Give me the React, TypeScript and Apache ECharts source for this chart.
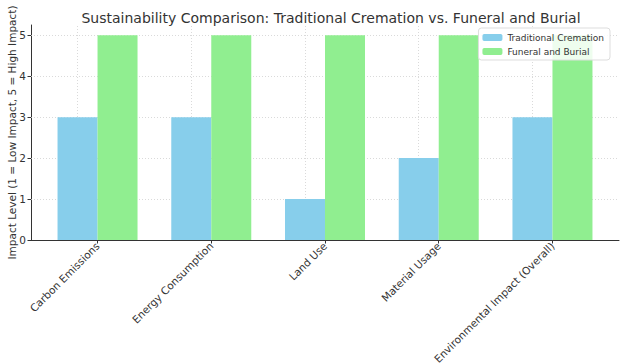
import React, { useEffect, useRef } from "react";
import * as echarts from "echarts";

const categories = [
  "Carbon Emissions",
  "Energy Consumption",
  "Land Use",
  "Material Usage",
  "Environmental Impact (Overall)",
];
const cremation = [3, 3, 1, 2, 3];
const burial = [5, 5, 5, 5, 5];
const yTicks = [0, 1, 2, 3, 4, 5];
const gridY = [1, 2, 3, 4, 5];

const FONT = "DejaVu Sans";

export default function App() {
  const ref = useRef<HTMLDivElement>(null);
  useEffect(() => {
    if (!ref.current) return;
    const chart = echarts.init(ref.current, null, { renderer: "svg" });
    const idx = categories.map((_, i) => i);
    const gridStyle = { color: "#d0d0d0", type: [1, 2] as any, width: 0.8 };
    chart.setOption({
      animation: false,
      backgroundColor: "#fff",
      textStyle: { fontFamily: FONT },
      title: {
        text: "Sustainability Comparison: Traditional Cremation vs. Funeral and Burial",
        left: 326,
        textAlign: "center",
        top: 6,
        textStyle: { fontFamily: FONT, fontSize: 14, fontWeight: "normal", color: "#333" },
      },
      legend: {
        orient: "vertical",
        right: 14,
        top: 28,
        itemWidth: 20,
        itemHeight: 7,
        itemGap: 5,
        padding: [5, 6, 4, 4],
        borderColor: "#ddd",
        borderWidth: 1,
        borderRadius: 3,
        backgroundColor: "rgba(255,255,255,0.85)",
        textStyle: { fontFamily: FONT, fontSize: 9, color: "#333" },
        data: ["Traditional Cremation", "Funeral and Burial"],
      },
      grid: { left: 31, right: 5, top: 25, bottom: 124, outerBoundsMode: "none", containLabel: false },
      xAxis: {
        type: "value",
        min: -0.585,
        max: 4.585,
        axisLine: { show: true, onZero: false, lineStyle: { color: "#333", width: 1 } },
        axisTick: { show: true, customValues: idx, length: 3.5, lineStyle: { color: "#333" } },
        axisLabel: {
          customValues: idx,
          rotate: 45,
          formatter: (v: number) => categories[Math.round(v)] ?? "",
          fontFamily: FONT,
          fontSize: 10.5,
          color: "#333",
          margin: 4,
        },
        splitLine: { show: false },
      },
      yAxis: {
        type: "value",
        min: 0,
        max: 5.25,
        name: "Impact Level (1 = Low Impact, 5 = High Impact)",
        nameLocation: "middle",
        nameGap: 14,
        nameMoveOverlap: false,
        nameTextStyle: { fontFamily: FONT, fontSize: 10.5, color: "#333" },
        axisLine: { show: true, onZero: false, lineStyle: { color: "#333", width: 1 } },
        axisTick: { show: true, customValues: yTicks, length: 3.5, lineStyle: { color: "#333" } },
        axisLabel: { customValues: yTicks, fontFamily: FONT, fontSize: 10.5, color: "#333", margin: 5 },
        splitLine: { show: false },
      },
      series: [
        {
          name: "Traditional Cremation",
          type: "bar",
          barWidth: 40,
          barGap: "0%",
          itemStyle: { color: "#87CEEB" },
          data: cremation.map((v, i) => [i, v]),
          z: 3,
          markLine: {
            silent: true,
            symbol: "none",
            label: { show: false },
            lineStyle: gridStyle,
            z: 1,
            data: [
              ...gridY.map((y) => ({ yAxis: y })),
              ...idx.map((x) => ({ xAxis: x })),
            ],
          },
        },
        {
          name: "Funeral and Burial",
          type: "bar",
          barWidth: 40,
          barGap: "0%",
          itemStyle: { color: "#90EE90" },
          data: burial.map((v, i) => [i, v]),
          z: 3,
        },
      ],
    });
    return () => chart.dispose();
  }, []);
  return (
    <div
      ref={ref}
      style={{ position: "fixed", left: 0, top: 0, width: 624, height: 364 }}
    />
  );
}
